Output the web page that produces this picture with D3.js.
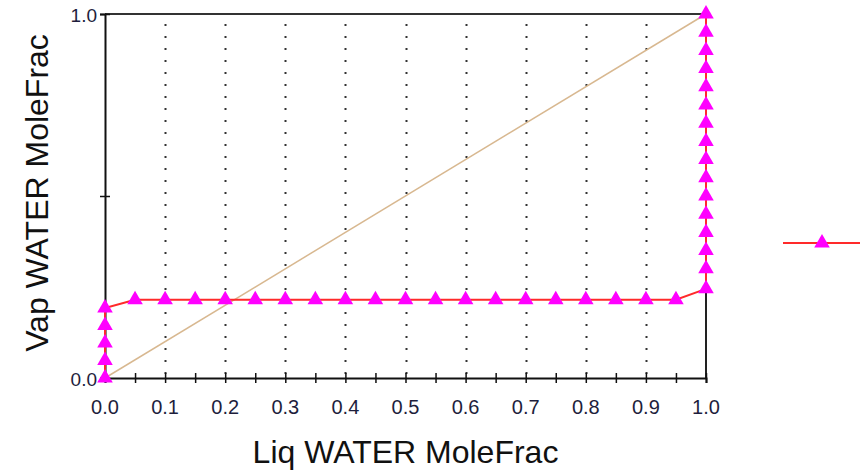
<!DOCTYPE html>
<html>
<head>
<meta charset="utf-8">
<script src="https://cdn.jsdelivr.net/npm/d3@7"></script>
<style>
  body { margin: 0; background: #fff; }
  svg { display: block; font-family: "Liberation Sans", Arial, sans-serif; }
</style>
</head>
<body>
<div id="chart"></div>
<script>
// Liquid / vapour water mole fractions
const liqX = [
  0, 0, 0, 0, 0,
  0.05, 0.1, 0.15, 0.2, 0.25, 0.3, 0.35, 0.4, 0.45, 0.5,
  0.55, 0.6, 0.65, 0.7, 0.75, 0.8, 0.85, 0.9, 0.95,
  1, 1, 1, 1, 1, 1, 1, 1, 1, 1, 1, 1, 1, 1, 1, 1
];
const vapY = [
  0, 0.048, 0.096, 0.144, 0.192,
  0.215, 0.215, 0.215, 0.215, 0.215, 0.215, 0.215, 0.215, 0.215, 0.215,
  0.215, 0.215, 0.215, 0.215, 0.215, 0.215, 0.215, 0.215, 0.215,
  0.245, 0.3, 0.35, 0.4, 0.45, 0.5, 0.55, 0.6, 0.65, 0.7, 0.75, 0.8, 0.85, 0.9, 0.95, 1.0
];
const xTicks = d3.range(0, 1.0001, 0.05);
const xTickLabels = ["0.0", "0.1", "0.2", "0.3", "0.4", "0.5", "0.6", "0.7", "0.8", "0.9", "1.0"];
const gridX = [0.1, 0.2, 0.3, 0.4, 0.5, 0.6, 0.7, 0.8, 0.9];
const yTicks = [0, 0.5, 1];
const yTickLabels = { 0: "0.0", 1: "1.0" };

const width = 860, height = 472;
const margin = { top: 14, right: 154, bottom: 94, left: 105 };

const data = liqX.map((x, i) => ({ x: x, y: vapY[i] }));

const svg = d3.select("#chart")
  .append("svg")
  .attr("width", width)
  .attr("height", height);

const x = d3.scaleLinear().domain([0, 1]).range([margin.left, width - margin.right]);
const y = d3.scaleLinear().domain([0, 1]).range([height - margin.bottom, margin.top]);

// dotted vertical grid
svg.append("g")
  .selectAll("line")
  .data(gridX)
  .enter()
  .append("line")
  .attr("x1", (d) => Math.round(x(d)) + 0.5)
  .attr("x2", (d) => Math.round(x(d)) + 0.5)
  .attr("y1", y(1) + 10)
  .attr("y2", y(0))
  .attr("stroke", "#333")
  .attr("stroke-width", 2)
  .attr("stroke-dasharray", "2,10");

// top and right frame
svg.append("line")
  .attr("x1", x(0)).attr("x2", x(1))
  .attr("y1", y(1)).attr("y2", y(1))
  .attr("stroke", "#333").attr("stroke-width", 2);
svg.append("line")
  .attr("x1", x(1)).attr("x2", x(1))
  .attr("y1", y(1)).attr("y2", y(0))
  .attr("stroke", "#222").attr("stroke-width", 2);

// X axis
const xAxis = svg.append("g")
  .attr("transform", `translate(0,${y(0)})`)
  .call(d3.axisBottom(x).tickValues(xTicks).tickSize(5).tickFormat(""));
xAxis.select(".domain").attr("stroke", "#111").attr("stroke-width", 2);
xAxis.selectAll(".tick line").attr("y1", -5).attr("stroke", "#111").attr("stroke-width", 1.5);

svg.append("g")
  .selectAll("text")
  .data(xTickLabels)
  .enter()
  .append("text")
  .attr("x", (d) => x(+d))
  .attr("y", y(0) + 36)
  .attr("text-anchor", "middle")
  .attr("font-size", 20)
  .attr("fill", "#1e1e3c")
  .text((d) => d);

// Y axis
const yAxis = svg.append("g")
  .attr("transform", `translate(${x(0)},0)`)
  .call(d3.axisLeft(y).tickValues(yTicks).tickSize(5).tickFormat(""));
yAxis.select(".domain").attr("stroke", "#111").attr("stroke-width", 2);
yAxis.selectAll(".tick line").attr("x1", 5).attr("stroke", "#111").attr("stroke-width", 1.5);

svg.append("g")
  .selectAll("text")
  .data(yTicks.filter((d) => yTickLabels[d]))
  .enter()
  .append("text")
  .attr("x", x(0) - 8)
  .attr("y", (d) => y(d) + 8)
  .attr("text-anchor", "end")
  .attr("font-size", 19)
  .attr("fill", "#1e1e3c")
  .text((d) => yTickLabels[d]);

// diagonal reference line
svg.append("line")
  .attr("x1", x(0)).attr("y1", y(0))
  .attr("x2", x(1)).attr("y2", y(1))
  .attr("stroke", "#d8b890")
  .attr("stroke-width", 1.5);

// VLE curve
const line = d3.line()
  .x((d) => x(d.x))
  .y((d) => y(d.y));

svg.append("path")
  .datum(data)
  .attr("fill", "none")
  .attr("stroke", "#ff2a2a")
  .attr("stroke-width", 2)
  .attr("d", line);

const tri = d3.symbol().type(d3.symbolTriangle).size(105);

svg.append("g")
  .selectAll("path")
  .data(data)
  .enter()
  .append("path")
  .attr("transform", (d) => `translate(${x(d.x)},${y(d.y)})`)
  .attr("d", tri)
  .attr("fill", "#ff00ff");

// legend (no label text visible)
const legend = svg.append("g").attr("transform", "translate(783,243)");
legend.append("line")
  .attr("x1", 0).attr("x2", 77)
  .attr("y1", 0).attr("y2", 0)
  .attr("stroke", "#ff2a2a")
  .attr("stroke-width", 2);
legend.append("path")
  .attr("transform", "translate(39,0)")
  .attr("d", tri)
  .attr("fill", "#ff00ff");

// axis titles
svg.append("text")
  .attr("x", (x(0) + x(1)) / 2)
  .attr("y", 463)
  .attr("text-anchor", "middle")
  .attr("font-size", 32)
  .attr("fill", "#111")
  .text("Liq WATER MoleFrac");

svg.append("text")
  .attr("transform", "rotate(-90)")
  .attr("x", -193)
  .attr("y", 48)
  .attr("text-anchor", "middle")
  .attr("font-size", 32)
  .attr("fill", "#111")
  .text("Vap WATER MoleFrac");
</script>
</body>
</html>
